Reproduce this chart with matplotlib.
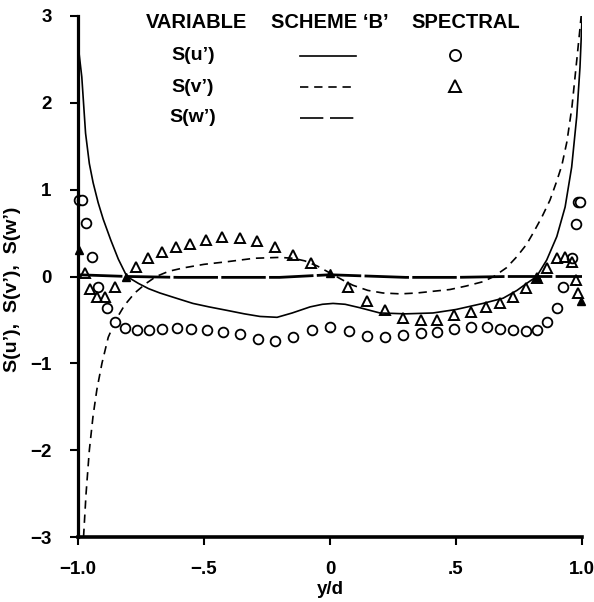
import matplotlib
matplotlib.use("Agg")
import matplotlib.pyplot as plt

plt.rcParams["font.family"] = ["Liberation Sans", "DejaVu Sans"]
plt.rcParams["font.weight"] = "bold"

# ---- data ----
# Scheme 'B' curves
u_x = [-0.997, -0.985, -0.97, -0.955, -0.94, -0.92, -0.90, -0.87, -0.84, -0.806,
       -0.76, -0.72, -0.675, -0.61, -0.544, -0.48, -0.409, -0.34, -0.278, -0.21,
       -0.15, -0.079, -0.03, 0.012, 0.06, 0.119, 0.198, 0.30, 0.409, 0.50,
       0.607, 0.687, 0.742, 0.78, 0.82, 0.86, 0.90, 0.933, 0.959, 0.979,
       0.992, 1.002]
u_y = [2.6, 2.3, 1.65, 1.3, 1.08, 0.85, 0.66, 0.42, 0.2, 0.0,
       -0.08, -0.14, -0.19, -0.25, -0.31, -0.35, -0.39, -0.43, -0.46, -0.47,
       -0.42, -0.35, -0.32, -0.31, -0.32, -0.36, -0.42, -0.43, -0.42, -0.38,
       -0.31, -0.25, -0.16, -0.08, 0.0, 0.19, 0.46, 0.80, 1.26, 1.84,
       2.41, 3.1]

v_x = [-0.978, -0.968, -0.955, -0.94, -0.925, -0.905, -0.88, -0.85, -0.815, -0.775,
       -0.73, -0.69, -0.64, -0.58, -0.50, -0.409, -0.30, -0.20, -0.147, -0.10,
       -0.05, 0.0, 0.05, 0.09, 0.15, 0.21, 0.28, 0.345, 0.41, 0.476,
       0.54, 0.607, 0.65, 0.70, 0.742, 0.78, 0.806, 0.84, 0.873, 0.90,
       0.92, 0.94, 0.96, 0.976, 0.99, 1.0]
v_y = [-3.0, -2.5, -2.0, -1.6, -1.3, -1.0, -0.7, -0.5, -0.33, -0.19,
       -0.08, 0.0, 0.06, 0.10, 0.14, 0.17, 0.21, 0.22, 0.21, 0.18,
       0.12, 0.04, -0.04, -0.10, -0.16, -0.19, -0.20, -0.19, -0.17, -0.15,
       -0.11, -0.06, 0.0, 0.10, 0.23, 0.37, 0.50, 0.68, 0.88, 1.10,
       1.28, 1.55, 1.95, 2.4, 2.8, 3.1]

w_x = [-1.0, -0.9, -0.8, -0.6, -0.4, -0.2, 0.0, 0.1, 0.3, 0.5, 0.7, 0.8, 0.9, 1.0]
w_y = [0.02, 0.01, 0.0, -0.01, -0.01, -0.01, 0.02, 0.01, -0.01, -0.01, 0.0, 0.0, 0.0, 0.0]

# Spectral data
su_x = [-0.996, -0.984, -0.97, -0.946, -0.919, -0.886, -0.853, -0.813, -0.766, -0.718,
        -0.667, -0.607, -0.552, -0.488, -0.425, -0.357, -0.286, -0.218, -0.147, -0.071,
        0.0, 0.075, 0.147, 0.218, 0.29, 0.361, 0.425, 0.492, 0.56, 0.623,
        0.675, 0.726, 0.778, 0.82, 0.86, 0.90, 0.925, 0.96, 0.976, 0.984, 0.992]
su_y = [0.88, 0.88, 0.62, 0.23, -0.12, -0.36, -0.52, -0.59, -0.62, -0.62,
        -0.60, -0.59, -0.60, -0.62, -0.64, -0.66, -0.72, -0.74, -0.70, -0.62,
        -0.58, -0.63, -0.68, -0.70, -0.67, -0.65, -0.64, -0.60, -0.58, -0.58,
        -0.60, -0.62, -0.63, -0.62, -0.52, -0.36, -0.12, 0.21, 0.60, 0.86, 0.86]

sv_x = [-0.972, -0.952, -0.925, -0.893, -0.853, -0.77, -0.722, -0.667, -0.611, -0.556,
        -0.492, -0.429, -0.357, -0.29, -0.218, -0.147, -0.075, 0.071, 0.147, 0.218,
        0.29, 0.361, 0.425, 0.492, 0.56, 0.619, 0.675, 0.726, 0.778, 0.821,
        0.861, 0.90, 0.933, 0.96, 0.976, 0.984]
sv_y = [0.04, -0.14, -0.24, -0.24, -0.12, 0.11, 0.21, 0.28, 0.34, 0.37,
        0.42, 0.46, 0.44, 0.41, 0.34, 0.25, 0.16, -0.12, -0.28, -0.39,
        -0.48, -0.50, -0.50, -0.44, -0.41, -0.35, -0.31, -0.24, -0.13, -0.02,
        0.10, 0.21, 0.22, 0.17, -0.04, -0.19]

sw_x = [-0.995, -0.81, 0.0, 0.82, 0.998]
sw_y = [0.31, 0.0, 0.04, 0.0, -0.28]

xticks = [-1.0, -0.5, 0.0, 0.5, 1.0]
xtick_labels = ["\u22121.0", "\u2212.5", "0", ".5", "1.0"]
yticks = [-3, -2, -1, 0, 1, 2, 3]
ytick_labels = ["\u22123", "\u22122", "\u22121", "0", "1", "2", "3"]

# ---- figure ----
W, H = 594, 602
fig = plt.figure(figsize=(W / 100, H / 100), dpi=100)
ax = fig.add_axes([78 / W, 1 - 537 / H, 504 / W, 521 / H])

lw = 1.2
ax.plot(u_x, u_y, color="black", lw=lw)
ax.plot(v_x, v_y, color="black", lw=lw, dashes=(5, 3.5))
ax.plot(w_x, w_y, color="black", lw=2.0, dashes=(16, 1.2))

ax.plot(su_x, su_y, ls="none", marker="o", ms=7, mfc="white", mec="black",
        mew=1.3, clip_on=False)
ax.plot(sv_x, sv_y, ls="none", marker="^", ms=7.5, mfc="none", mec="black",
        mew=1.4, clip_on=False)
ax.plot(sw_x, sw_y, ls="none", marker="^", ms=6, color="black", clip_on=False)

ax.set_xlim(-1, 1)
ax.set_ylim(-3, 3)
ax.spines["top"].set_visible(False)
ax.spines["right"].set_visible(False)
ax.spines["left"].set_linewidth(2.3)
ax.spines["bottom"].set_linewidth(2.6)
ax.set_xticks(xticks)
ax.set_xticklabels(xtick_labels)
ax.set_yticks(yticks)
ax.set_yticklabels(ytick_labels)
ax.tick_params(direction="out", length=6, width=1.5, labelsize=13.5)
ax.tick_params(axis="x", pad=11)
ax.tick_params(axis="y", pad=13)

fig.text(330 / W, 1 - 590 / H, "y/d", ha="center", va="center", fontsize=13.5)
fig.text(13 / W, 1 - 289 / H, "S(u\u2019),  S(v\u2019),  S(w\u2019)", rotation=90,
         ha="center", va="center", fontsize=14)

# ---- table-style legend ----
def axx(px):
    return (px - 78) / 504

def axy(py):
    return (537 - py) / 521

tr = ax.transAxes
hdr_y = axy(22)
ax.text(axx(197), hdr_y, "VARIABLE", transform=tr, ha="center", va="center", fontsize=14.5)
ax.text(axx(330), hdr_y, "SCHEME \u2018B\u2019", transform=tr, ha="center", va="center", fontsize=14.5)
ax.text(axx(466), hdr_y, "SPECTRAL", transform=tr, ha="center", va="center", fontsize=14.5)

row_names = ["S(u\u2019)", "S(v\u2019)", "S(w\u2019)"]
row_py = [56, 87, 118]
row_dash = [None, (5, 3.5), (14, 4)]
for name, py, dsh in zip(row_names, row_py, row_dash):
    ax.text(axx(193), axy(py), name, transform=tr, ha="center", va="center", fontsize=14)
    ln, = ax.plot([axx(300), axx(356)], [axy(py), axy(py)], transform=tr,
                  color="black", lw=lw, clip_on=False)
    if dsh is not None:
        ln.set_dashes(dsh)

ax.plot([axx(455)], [axy(55)], transform=tr, marker="o", ms=8, mfc="white",
        mec="black", mew=1.3, ls="none", clip_on=False)
ax.plot([axx(455)], [axy(86)], transform=tr, marker="^", ms=8.5, mfc="none",
        mec="black", mew=1.4, ls="none", clip_on=False)

fig.savefig("out.png", dpi=100)
